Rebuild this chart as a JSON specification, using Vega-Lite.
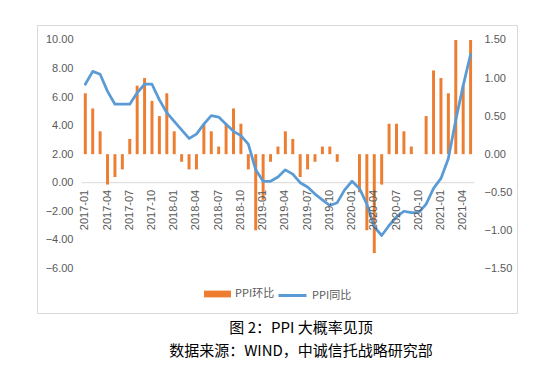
{
  "$schema": "https://vega.github.io/schema/vega-lite/v6.json",
  "width": 480,
  "height": 288,
  "autosize": {"type": "none"},
  "padding": {"left": 37, "top": 25, "right": 42, "bottom": 66},
  "background": "white",
  "config": {
    "view": {"stroke": "#D9D9D9", "strokeWidth": 1},
    "axis": {"labelFont": "Liberation Sans", "labelFontSize": 11, "labelColor": "#595959", "grid": false, "ticks": false, "domain": false}
  },
  "title": {
    "text": "图 2：PPI 大概率见顶",
    "subtitle": "数据来源：WIND，中诚信托战略研究部",
    "orient": "bottom",
    "anchor": "middle",
    "frame": "group",
    "dx": 24,
    "offset": 8,
    "font": "Noto Sans CJK SC",
    "fontSize": 15,
    "fontWeight": "normal",
    "color": "#000000",
    "subtitleFont": "Noto Sans CJK SC",
    "subtitleFontSize": 15,
    "subtitleColor": "#000000",
    "subtitlePadding": 8
  },
  "data": {"values": [
    {"month": "2017-01", "yoy": 6.9, "mom": 0.8},
    {"month": "2017-02", "yoy": 7.8, "mom": 0.6},
    {"month": "2017-03", "yoy": 7.6, "mom": 0.3},
    {"month": "2017-04", "yoy": 6.4, "mom": -0.4},
    {"month": "2017-05", "yoy": 5.5, "mom": -0.3},
    {"month": "2017-06", "yoy": 5.5, "mom": -0.2},
    {"month": "2017-07", "yoy": 5.5, "mom": 0.2},
    {"month": "2017-08", "yoy": 6.3, "mom": 0.9},
    {"month": "2017-09", "yoy": 6.9, "mom": 1.0},
    {"month": "2017-10", "yoy": 6.9, "mom": 0.7},
    {"month": "2017-11", "yoy": 5.8, "mom": 0.5},
    {"month": "2017-12", "yoy": 4.9, "mom": 0.8},
    {"month": "2018-01", "yoy": 4.3, "mom": 0.3},
    {"month": "2018-02", "yoy": 3.7, "mom": -0.1},
    {"month": "2018-03", "yoy": 3.1, "mom": -0.2},
    {"month": "2018-04", "yoy": 3.4, "mom": -0.2},
    {"month": "2018-05", "yoy": 4.1, "mom": 0.4},
    {"month": "2018-06", "yoy": 4.7, "mom": 0.3},
    {"month": "2018-07", "yoy": 4.6, "mom": 0.1},
    {"month": "2018-08", "yoy": 4.1, "mom": 0.4},
    {"month": "2018-09", "yoy": 3.6, "mom": 0.6},
    {"month": "2018-10", "yoy": 3.3, "mom": 0.4},
    {"month": "2018-11", "yoy": 2.7, "mom": -0.2},
    {"month": "2018-12", "yoy": 0.9, "mom": -1.0},
    {"month": "2019-01", "yoy": 0.1, "mom": -0.6},
    {"month": "2019-02", "yoy": 0.1, "mom": -0.1},
    {"month": "2019-03", "yoy": 0.4, "mom": 0.1},
    {"month": "2019-04", "yoy": 0.9, "mom": 0.3},
    {"month": "2019-05", "yoy": 0.6, "mom": 0.2},
    {"month": "2019-06", "yoy": 0.0, "mom": -0.3},
    {"month": "2019-07", "yoy": -0.3, "mom": -0.2},
    {"month": "2019-08", "yoy": -0.8, "mom": -0.1},
    {"month": "2019-09", "yoy": -1.2, "mom": 0.1},
    {"month": "2019-10", "yoy": -1.6, "mom": 0.1},
    {"month": "2019-11", "yoy": -1.4, "mom": -0.1},
    {"month": "2019-12", "yoy": -0.5, "mom": 0.0},
    {"month": "2020-01", "yoy": 0.1, "mom": 0.0},
    {"month": "2020-02", "yoy": -0.4, "mom": -0.5},
    {"month": "2020-03", "yoy": -1.5, "mom": -1.0},
    {"month": "2020-04", "yoy": -3.1, "mom": -1.3},
    {"month": "2020-05", "yoy": -3.7, "mom": -0.4},
    {"month": "2020-06", "yoy": -3.0, "mom": 0.4},
    {"month": "2020-07", "yoy": -2.4, "mom": 0.4},
    {"month": "2020-08", "yoy": -2.0, "mom": 0.3},
    {"month": "2020-09", "yoy": -2.1, "mom": 0.1},
    {"month": "2020-10", "yoy": -2.1, "mom": 0.0},
    {"month": "2020-11", "yoy": -1.5, "mom": 0.5},
    {"month": "2020-12", "yoy": -0.4, "mom": 1.1},
    {"month": "2021-01", "yoy": 0.3, "mom": 1.0},
    {"month": "2021-02", "yoy": 1.7, "mom": 0.8},
    {"month": "2021-03", "yoy": 4.4, "mom": 1.5},
    {"month": "2021-04", "yoy": 6.8, "mom": 0.9},
    {"month": "2021-05", "yoy": 9.0, "mom": 1.5}
  ]},
  "layer": [
    {
      "data": {"values": [{"k": 0}]},
      "mark": {"type": "rule", "color": "#D9D9D9", "strokeWidth": 1},
      "encoding": {
        "x": {"datum": "2017-01", "type": "ordinal", "bandPosition": 0},
        "x2": {"datum": "2021-05", "bandPosition": 1},
        "y": {"datum": 0, "type": "quantitative", "scale": {"domain": [-9.132, 11.051], "nice": false, "zero": false}, "axis": null}
      }
    },
    {
      "mark": {"type": "bar", "width": {"band": 0.4}},
      "encoding": {
        "x": {
          "field": "month", "type": "ordinal",
          "scale": {"paddingInner": 0, "paddingOuter": 0, "range": [44.6, 437.3]},
          "axis": {
            "orient": "bottom", "offset": -129.7, "labelAngle": -90, "labelPadding": 6, "title": null, "zindex": 1,
            "values": ["2017-01","2017-04","2017-07","2017-10","2018-01","2018-04","2018-07","2018-10","2019-01","2019-04","2019-07","2019-10","2020-01","2020-04","2020-07","2020-10","2021-01","2021-04"]
          }
        },
        "y": {
          "field": "mom", "type": "quantitative",
          "scale": {"domain": [-2.087, 1.697], "nice": false, "zero": false},
          "axis": {"orient": "right", "values": [-1.5, -1, -0.5, 0, 0.5, 1, 1.5], "format": ".2f", "offset": -34, "labelPadding": 1, "title": null}
        },
        "fill": {
          "datum": "PPI环比", "type": "nominal",
          "scale": {"range": ["#ED7D31"]},
          "legend": {"orient": "none", "legendX": 167, "legendY": 255.5, "title": null, "padding": 0, "symbolType": "M-1,-0.25H1V0.25H-1Z", "symbolSize": 729, "symbolStrokeWidth": 0, "labelFont": "Noto Sans CJK SC", "labelFontSize": 11, "labelColor": "#595959", "labelOffset": 4}
        }
      }
    },
    {
      "mark": {"type": "line", "strokeWidth": 2.75, "strokeJoin": "round", "strokeCap": "round"},
      "encoding": {
        "x": {"field": "month", "type": "ordinal"},
        "y": {
          "field": "yoy", "type": "quantitative",
          "scale": {"domain": [-9.132, 11.051], "nice": false, "zero": false},
          "axis": {"orient": "left", "values": [-6, -4, -2, 0, 2, 4, 6, 8, 10], "format": ".2f", "offset": -37, "labelPadding": 1, "title": null}
        },
        "stroke": {
          "datum": "PPI同比", "type": "nominal",
          "scale": {"range": ["#5B9BD5"]},
          "legend": {"orient": "none", "legendX": 240, "legendY": 255, "title": null, "padding": 0, "symbolType": "stroke", "symbolSize": 784, "symbolStrokeWidth": 3, "labelFont": "Noto Sans CJK SC", "labelFontSize": 11, "labelColor": "#595959", "labelOffset": 4}
        }
      }
    }
  ],
  "resolve": {"scale": {"y": "independent"}}
}
